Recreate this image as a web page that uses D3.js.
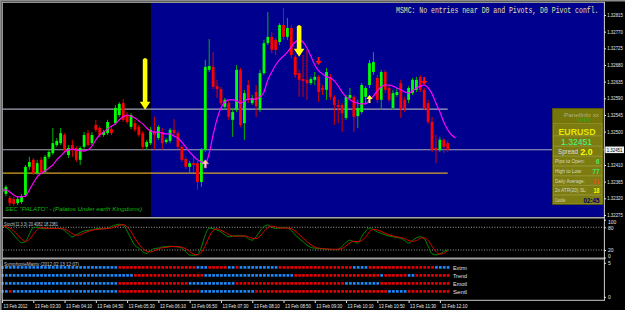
<!DOCTYPE html>
<html>
<head>
<meta charset="utf-8">
<script src="https://cdn.jsdelivr.net/npm/d3@7/dist/d3.min.js"></script>
<style>
html,body{margin:0;padding:0;background:#000;}
svg{display:block;}
text{font-family:"Liberation Sans",Arial,sans-serif;}
</style>
</head>
<body>
<svg id="chart" width="625" height="310"></svg>
<script>
// ================= DATA =================
const timeTickBars = [0,8,16,24,32,40,48,56,64,72,80,88,96,104,112];
const timeLabels = ["13 Feb 2012","13 Feb 03:30","13 Feb 04:10","13 Feb 04:50","13 Feb 05:30","13 Feb 06:10","13 Feb 06:50","13 Feb 07:30","13 Feb 08:10","13 Feb 08:50","13 Feb 09:30","13 Feb 10:10","13 Feb 10:50","13 Feb 11:30","13 Feb 12:10"];
const priceTicks = [1.32815,1.32770,1.32725,1.32680,1.32635,1.32590,1.32545,1.32500,1.32410,1.32365,1.32320,1.32275];
const bidPrice = 1.32451;
const upperLevel = 1.32561;
const lowerLevel = 1.32388;
const sessionStartBar = 38;

const open = [1.32337,1.32332,1.32321,1.32318,1.32307,1.32310,1.32329,1.32405,1.32424,1.32388,
1.32424,1.32391,1.32432,1.32442,1.32464,1.32469,1.32491,1.32437,1.32464,1.32456,
1.32424,1.32459,1.32496,1.32469,1.32518,1.32510,1.32491,1.32496,1.32507,1.32523,
1.32545,1.32577,1.32545,1.32513,1.32523,1.32513,1.32496,1.32459,1.32469,1.32499,
1.32483,1.32499,1.32472,1.32475,1.32505,1.32496,1.32459,1.32426,1.32405,1.32415,
1.32415,1.32364,1.32451,1.32667,1.32675,1.32623,1.32615,1.32567,1.32577,1.32532,
1.32559,1.32667,1.32523,1.32626,1.32577,1.32607,1.32559,1.32658,1.32739,1.32756,
1.32748,1.32742,1.32788,1.32756,1.32780,1.32702,1.32658,1.32642,1.32640,1.32631,
1.32640,1.32648,1.32618,1.32613,1.32648,1.32594,1.32572,1.32572,1.32537,1.32591,
1.32594,1.32542,1.32553,1.32594,1.32626,1.32661,1.32645,1.32586,1.32661,1.32618,
1.32564,1.32599,1.32631,1.32586,1.32586,1.32604,1.32613,1.32648,1.32613,1.32577,
1.32526,1.32456,1.32451,1.32478,1.32469];
const high = [1.32353,1.32356,1.32326,1.32324,1.32324,1.32332,1.32410,1.32432,1.32429,1.32424,
1.32432,1.32437,1.32451,1.32510,1.32483,1.32510,1.32496,1.32464,1.32478,1.32461,
1.32461,1.32499,1.32505,1.32499,1.32532,1.32515,1.32505,1.32532,1.32515,1.32572,
1.32580,1.32588,1.32553,1.32550,1.32532,1.32518,1.32502,1.32478,1.32513,1.32540,
1.32518,1.32510,1.32483,1.32510,1.32534,1.32502,1.32464,1.32432,1.32421,1.32434,
1.32421,1.32456,1.32694,1.32750,1.32715,1.32640,1.32621,1.32591,1.32583,1.32564,
1.32680,1.32672,1.32613,1.32640,1.32599,1.32626,1.32667,1.32748,1.32823,1.32769,
1.32753,1.32793,1.32834,1.32807,1.32788,1.32707,1.32667,1.32707,1.32721,1.32648,
1.32661,1.32653,1.32626,1.32672,1.32656,1.32599,1.32586,1.32577,1.32599,1.32618,
1.32599,1.32586,1.32631,1.32623,1.32694,1.32715,1.32653,1.32667,1.32667,1.32626,
1.32613,1.32618,1.32640,1.32594,1.32623,1.32645,1.32648,1.32653,1.32618,1.32586,
1.32540,1.32491,1.32486,1.32483,1.32475];
const low = [1.32332,1.32326,1.32299,1.32299,1.32302,1.32305,1.32324,1.32397,1.32383,1.32383,
1.32386,1.32386,1.32426,1.32437,1.32459,1.32464,1.32445,1.32429,1.32432,1.32418,
1.32410,1.32453,1.32459,1.32464,1.32499,1.32486,1.32486,1.32491,1.32491,1.32518,
1.32540,1.32526,1.32521,1.32507,1.32499,1.32486,1.32451,1.32451,1.32464,1.32451,
1.32478,1.32451,1.32467,1.32469,1.32491,1.32453,1.32418,1.32399,1.32388,1.32391,
1.32343,1.32351,1.32445,1.32661,1.32615,1.32591,1.32572,1.32559,1.32532,1.32486,
1.32553,1.32513,1.32478,1.32577,1.32572,1.32540,1.32553,1.32653,1.32734,1.32712,
1.32707,1.32734,1.32748,1.32748,1.32699,1.32645,1.32594,1.32594,1.32586,1.32626,
1.32626,1.32580,1.32599,1.32586,1.32586,1.32518,1.32523,1.32499,1.32532,1.32586,
1.32499,1.32510,1.32548,1.32577,1.32618,1.32653,1.32577,1.32559,1.32604,1.32580,
1.32559,1.32594,1.32537,1.32553,1.32577,1.32599,1.32607,1.32607,1.32559,1.32521,
1.32445,1.32415,1.32445,1.32442,1.32445];
const close = [1.32348,1.32351,1.32307,1.32305,1.32318,1.32326,1.32405,1.32418,1.32388,1.32415,
1.32391,1.32432,1.32445,1.32469,1.32475,1.32496,1.32451,1.32456,1.32451,1.32424,
1.32456,1.32491,1.32464,1.32491,1.32505,1.32491,1.32499,1.32526,1.32496,1.32564,
1.32575,1.32532,1.32526,1.32545,1.32505,1.32491,1.32459,1.32472,1.32505,1.32491,
1.32513,1.32469,1.32478,1.32505,1.32496,1.32459,1.32424,1.32405,1.32415,1.32410,
1.32364,1.32451,1.32675,1.32677,1.32621,1.32615,1.32577,1.32586,1.32540,1.32553,
1.32667,1.32518,1.32604,1.32586,1.32591,1.32569,1.32658,1.32739,1.32756,1.32721,
1.32721,1.32788,1.32756,1.32780,1.32707,1.32653,1.32640,1.32637,1.32631,1.32642,
1.32648,1.32607,1.32613,1.32661,1.32594,1.32572,1.32567,1.32550,1.32594,1.32599,
1.32540,1.32564,1.32626,1.32618,1.32685,1.32688,1.32586,1.32661,1.32613,1.32586,
1.32604,1.32607,1.32561,1.32564,1.32618,1.32640,1.32640,1.32613,1.32564,1.32526,
1.32451,1.32451,1.32478,1.32459,1.32451];
// shifted moving average (extends 2 bars beyond the last candle)
const maValues = [1.32343,1.32343,1.32337,1.32329,1.32324,1.32324,1.32326,1.32343,1.32361,1.32378,
1.32388,1.32394,1.32402,1.32410,1.32424,1.32434,1.32445,1.32451,1.32453,1.32451,
1.32448,1.32448,1.32451,1.32461,1.32478,1.32491,1.32499,1.32507,1.32515,1.32521,
1.32532,1.32540,1.32545,1.32542,1.32537,1.32529,1.32521,1.32510,1.32502,1.32499,
1.32499,1.32496,1.32494,1.32494,1.32488,1.32483,1.32472,1.32459,1.32445,1.32434,
1.32424,1.32418,1.32413,1.32442,1.32491,1.32534,1.32564,1.32580,1.32586,1.32586,
1.32583,1.32577,1.32583,1.32588,1.32588,1.32588,1.32594,1.32607,1.32640,1.32661,
1.32680,1.32694,1.32704,1.32715,1.32729,1.32742,1.32748,1.32742,1.32726,1.32704,
1.32680,1.32664,1.32656,1.32648,1.32645,1.32637,1.32623,1.32607,1.32594,1.32586,
1.32580,1.32577,1.32575,1.32575,1.32586,1.32596,1.32610,1.32621,1.32626,1.32626,
1.32623,1.32618,1.32613,1.32607,1.32604,1.32610,1.32618,1.32623,1.32626,1.32618,
1.32602,1.32577,1.32553,1.32526,1.32505,1.32491,1.32483];

const stochMain = [86,80,72,60,48,39,42,62,79,80,
77,76,77,78,77,76,72,62,55,60,
66,70,72,73,76,77,76,77,82,86,
88,86,70,50,32,25,15,11,18,24,
25,28,29,30,29,28,25,15,7,6,
8,28,60,78,76,73,68,60,55,56,
58,57,57,50,46,55,70,82,86,80,
77,78,79,78,72,60,50,42,33,27,
25,24,23,22,22,21,22,30,40,46,
42,38,55,70,78,74,68,64,60,57,
55,53,51,45,38,45,52,55,50,30,
10,7,10,16,20.4082];
const stochSignal = [84,82,78,70,60,49,43,48,61,74,
79,78,77,77,77,77,75,70,63,59,
60,65,69,72,74,75,76,77,78,82,
85,87,81,69,51,36,24,17,15,18,
22,26,27,29,29,29,27,23,16,9,
7,14,32,55,71,76,72,67,61,57,
56,57,57,55,51,50,57,69,79,83,
81,78,78,78,76,70,61,51,42,34,
28,25,24,23,22,22,22,24,31,39,
43,42,45,54,68,74,73,69,64,60,
57,55,53,50,45,43,45,51,52,45,
30,16,9,11,18.2381];
const stochLevels = [80,20];
const stochAxisTicks = [100,80,20,0];

// SymphonieMatrix rows, run-length: [state, number of bars]  (b = up/blue, r = down/red)
const symphRowNames = ["Extrm","Trend","Emotl","Sentl"];
const extrmRuns = [["b",30],["r",20],["b",3],["r",5],["b",2],["r",1],["b",10],["r",19],["b",4],["r",17],["b",4]];
const trendRuns = [["b",34],["r",18],["b",23],["r",22],["b",1],["r",6],["b",2],["r",9]];
const emotlRuns = [["b",30],["r",18],["b",12],["r",28],["b",9],["r",18]];
const sentlRuns = [["b",2],["r",1],["b",27],["r",21],["b",14],["r",34],["b",5],["r",11]];
const symphAxisTicks = [5,0];

// signal arrows: bar index, tip price, tail price
const bigArrows = [{bar:36.6, tip:1.32559, tail:1.32699},{bar:76, tip:1.32702, tail:1.32788}];
const smallDownArrows = [{bar:81, tip:1.32680},{bar:108, tip:1.32626}];
const smallUpArrows = [{bar:94, tip:1.32599, kind:"y"},{bar:52, tip:1.32424, kind:"p"}];

const headline = "MSMC: No entries near D0 and Pivots, D0 Pivot confl.";
const footnote = 'SEC "PALATO" - (Palatos Under earth Kingdoms)';
const stochTitle = "Stoch(11,3,3) 20.4082 18.2381";
const symphTitle = "SymphonieMatrix (2012.02.13 12:07)";

const panelSymbol = "EURUSD";
const panelPrice = "1.32451";
const panelSpread = "2.0";
const panelLabels = ["Pips to Open:","High to Low:","Daily Average:","2x ATR(20) SL:","Candle:"];
const panelValues = ["6","77","91","18","02:45"];

// ================= DRAW =================
const svg = d3.select("#chart");
const nBars = close.length;
const x = d3.scaleLinear().domain([0, nBars-1]).range([2, 447.7]);
const y = d3.scaleLinear().domain([1.32275, 1.32815]).range([215, 15]);
const yS = d3.scaleLinear().domain([0,100]).range([257.6, 219.7]);
const ySm = d3.scaleLinear().domain([0,5]).range([296.8,262.8]);
const M = {l:3, r:604, t:3, b:216.8};

svg.append("rect").attr("width",625).attr("height",310).attr("fill","#000");

const defs = svg.append("defs");
defs.append("clipPath").attr("id","mainClip").append("rect")
  .attr("x",M.l).attr("y",M.t).attr("width",M.r-M.l).attr("height",M.b-M.t);
defs.append("clipPath").attr("id","stochClip").append("rect")
  .attr("x",M.l).attr("y",219).attr("width",M.r-M.l).attr("height",38.5);

// session background
svg.append("rect").attr("x",x(sessionStartBar)+0.4).attr("y",M.t)
  .attr("width",M.r-x(sessionStartBar)-0.4).attr("height",M.b-M.t).attr("fill","#00008E");

const gMain = svg.append("g").attr("clip-path","url(#mainClip)");

// level lines
gMain.append("line").attr("x1",M.l).attr("x2",x(nBars-1)).attr("y1",y(upperLevel)).attr("y2",y(upperLevel))
  .attr("stroke","#A4A4B8").attr("stroke-width",1.2);
gMain.append("line").attr("x1",M.l).attr("x2",x(nBars-1)).attr("y1",y(lowerLevel)).attr("y2",y(lowerLevel))
  .attr("stroke","#D8A424").attr("stroke-width",1.2);
gMain.append("line").attr("x1",M.l).attr("x2",M.r).attr("y1",y(bidPrice)).attr("y2",y(bidPrice))
  .attr("stroke","#A4A4B8").attr("stroke-width",1.1);

// candles
const bars = d3.range(nBars).map(i=>({i, o:open[i], h:high[i], l:low[i], c:close[i]}));
gMain.selectAll("line.wick").data(bars).join("line").attr("class","wick")
  .attr("x1",d=>x(d.i)).attr("x2",d=>x(d.i))
  .attr("y1",d=>y(d.h)).attr("y2",d=>y(d.l))
  .attr("stroke",d=>d.c>=d.o?"#00B400":"#D80000").attr("stroke-width",1);
gMain.selectAll("rect.body").data(bars).join("rect").attr("class","body")
  .attr("x",d=>x(d.i)-1.4).attr("width",2.8)
  .attr("y",d=>y(Math.max(d.o,d.c)))
  .attr("height",d=>Math.max(1,Math.abs(y(d.o)-y(d.c))))
  .attr("fill",d=>d.c>=d.o?"#00FF00":"#FF0000");

// moving average
gMain.append("path").datum(maValues)
  .attr("d", d3.line().x((d,i)=>x(i)).y(d=>y(d)).curve(d3.curveMonotoneX))
  .attr("fill","none").attr("stroke","#FF00FF").attr("stroke-width",1.2);

// big yellow arrows
bigArrows.forEach(a=>{
  const cx = x(a.bar), tip = y(a.tip), top = y(a.tail);
  const p = d3.path();
  p.moveTo(cx-2.3, top+1.5); p.quadraticCurveTo(cx, top-1.5, cx+2.3, top+1.5);
  p.lineTo(cx+2.3, tip-8); p.lineTo(cx+5.3, tip-8); p.lineTo(cx, tip);
  p.lineTo(cx-5.3, tip-8); p.lineTo(cx-2.3, tip-8); p.closePath();
  gMain.append("path").attr("d",p.toString()).attr("fill","#FFFF00");
});
// small arrows
smallDownArrows.forEach(a=>{
  const cx=x(a.bar), t=y(a.tip);
  const p=d3.path();
  p.moveTo(cx-1,t-8); p.lineTo(cx+1,t-8); p.lineTo(cx+1,t-4); p.lineTo(cx+3.3,t-4);
  p.lineTo(cx,t); p.lineTo(cx-3.3,t-4); p.lineTo(cx-1,t-4); p.closePath();
  gMain.append("path").attr("d",p.toString()).attr("fill","#FF1010");
});
smallUpArrows.forEach(a=>{
  const cx=x(a.bar), t=y(a.tip);
  const p=d3.path();
  p.moveTo(cx-1,t+8); p.lineTo(cx+1,t+8); p.lineTo(cx+1,t+4); p.lineTo(cx+3.3,t+4);
  p.lineTo(cx,t); p.lineTo(cx-3.3,t+4); p.lineTo(cx-1,t+4); p.closePath();
  gMain.append("path").attr("d",p.toString())
    .attr("fill",a.kind==="y"?"#FFFF30":"#F8D890")
    .attr("stroke",a.kind==="y"?"none":"#FF80E0").attr("stroke-width",0.6);
});

// texts in main window
svg.append("text").attr("transform","translate(396,13) scale(1,1.42)").text(headline)
  .style("font-family","'Liberation Mono',monospace").style("font-size","6.5px")
  .attr("fill","#E2E2A2");
svg.append("text").attr("x",5).attr("y",210.5).text(footnote)
  .style("font-size","6.2px").style("font-style","italic")
  .attr("fill","#10B810").attr("textLength",137).attr("lengthAdjust","spacingAndGlyphs");

// info panel
const P = {x:552.5, y:108.5, w:50.5, h:96};
const gP = svg.append("g");
gP.append("rect").attr("x",P.x).attr("y",P.y).attr("width",P.w).attr("height",P.h)
  .attr("fill","#76760A").attr("stroke","#5A5A00").attr("stroke-width",0.8);
const rowEdges = [123.5,136,146.5,156.5,166.2,176,185.7,195.2,204];
for(let k=0;k<rowEdges.length-1;k++){
  gP.append("rect").attr("x",P.x+1).attr("y",rowEdges[k]).attr("width",P.w-2).attr("height",rowEdges[k+1]-rowEdges[k]-0.6)
    .attr("fill","#7C7C10").attr("stroke","#9C9C40").attr("stroke-width",0.5);
}
gP.append("text").attr("x",564).attr("y",117).text("PanelInfo xx").style("font-size","5.5px")
  .attr("fill","#B4B47C").attr("textLength",35).attr("lengthAdjust","spacingAndGlyphs");
gP.append("text").attr("x",577.5).attr("y",122).text("%IFX").style("font-size","4.5px")
  .attr("fill","#18B018").attr("textLength",13).attr("lengthAdjust","spacingAndGlyphs");
gP.append("text").attr("x",558.5).attr("y",134.5).text(panelSymbol).style("font-size","9.5px").style("font-weight","bold")
  .attr("fill","#E8E800").attr("textLength",37).attr("lengthAdjust","spacingAndGlyphs");
gP.append("text").attr("x",561).attr("y",144.8).text(panelPrice).style("font-size","9.5px")
  .attr("fill","#40FF90").attr("textLength",31).attr("lengthAdjust","spacingAndGlyphs");
gP.append("text").attr("x",558).attr("y",154.3).text("Spread").style("font-size","6.5px")
  .attr("fill","#DCDCDC").attr("textLength",20).attr("lengthAdjust","spacingAndGlyphs");
gP.append("text").attr("x",580.5).attr("y",154.8).text(panelSpread).style("font-size","8.5px").style("font-weight","bold")
  .attr("fill","#FFFF00").attr("textLength",12).attr("lengthAdjust","spacingAndGlyphs");
const labelW = [30,27,30,32,11];
const valueColors = ["#38F060","#38F070","#E65020","#FFFF00","#000070"];
const valueW = [3.5,7,7,6,16];
panelLabels.forEach((lab,k)=>{
  const top = rowEdges[k+3];
  gP.append("text").attr("x",555).attr("y",top+6.6).text(lab).style("font-size","5px")
    .attr("fill","#DADAC0").attr("textLength",labelW[k]).attr("lengthAdjust","spacingAndGlyphs");
  gP.append("text").attr("x",599.5).attr("y",top+7.6).attr("text-anchor","end").text(panelValues[k])
    .style("font-size","7.5px").style("font-weight","bold")
    .attr("fill",valueColors[k]).attr("textLength",valueW[k]).attr("lengthAdjust","spacingAndGlyphs");
});

// price axis
const gY = svg.append("g").attr("transform","translate(604,0)")
  .call(d3.axisRight(y).tickValues(priceTicks).tickSize(2).tickPadding(1.3).tickFormat(d3.format(".5f")));
gY.select(".domain").remove();
gY.selectAll(".tick line").attr("stroke","#E0E0E0");
gY.selectAll(".tick text").attr("fill","#E8E8E8").style("font-size","4.8px")
  .attr("textLength",15.5).attr("lengthAdjust","spacingAndGlyphs").attr("dy","0.34em");
// bid label
svg.append("rect").attr("x",605.3).attr("y",y(bidPrice)-3.3).attr("width",18.7).attr("height",6.6).attr("fill","#F0F0F0");
svg.append("text").attr("x",606.8).attr("y",y(bidPrice)+1.8).text(d3.format(".5f")(bidPrice))
  .style("font-size","4.8px").attr("fill","#000").attr("textLength",15.5).attr("lengthAdjust","spacingAndGlyphs");

// stochastic panel
const gS = svg.append("g").attr("clip-path","url(#stochClip)");
stochLevels.forEach(v=>{
  gS.append("line").attr("x1",M.l).attr("x2",M.r).attr("y1",yS(v)).attr("y2",yS(v))
    .attr("stroke","#C8C8C8").attr("stroke-width",0.8).attr("stroke-dasharray","1,1.6");
});
const sLine = d3.line().x((d,i)=>x(i)).y(d=>yS(d)).curve(d3.curveMonotoneX);
gS.append("path").datum(stochMain).attr("d",sLine).attr("fill","none").attr("stroke","#008C00").attr("stroke-width",1);
gS.append("path").datum(stochSignal).attr("d",sLine).attr("fill","none").attr("stroke","#E00000").attr("stroke-width",1);
svg.append("text").attr("x",4).attr("y",225.5).text(stochTitle).style("font-size","5.5px")
  .attr("fill","#C8C8C8").attr("textLength",54).attr("lengthAdjust","spacingAndGlyphs");
const gSA = svg.append("g").attr("transform","translate(604,0)")
  .call(d3.axisRight(yS).tickValues(stochAxisTicks).tickSize(2).tickPadding(2));
gSA.select(".domain").remove();
gSA.selectAll(".tick line").attr("stroke","#E0E0E0");
gSA.selectAll(".tick text").attr("fill","#E8E8E8").style("font-size","5px")
  .attr("dy",d=>d===100?"3.4px":(d===0?"-0.2px":"1.8px"));

// symphonie matrix panel
const expand = runs => runs.flatMap(([s,n])=>Array(n).fill(s));
const symphRows = [expand(extrmRuns),expand(trendRuns),expand(emotlRuns),expand(sentlRuns)];
const rowY = [267.4,275.4,283.4,291.4];
const gM = svg.append("g");
symphRows.forEach((row,r)=>{
  gM.selectAll(null).data(row).join("rect")
    .attr("x",(d,i)=>x(i)-0.9).attr("y",rowY[r]-1.3).attr("width",2.7).attr("height",2.6)
    .attr("fill",d=>d==="b"?"#1E8CFF":"#F00000");
  gM.append("text").attr("x",453).attr("y",rowY[r]+2.6).text(symphRowNames[r]).style("font-size","5.5px")
    .attr("fill","#E0E0E0").attr("textLength",14).attr("lengthAdjust","spacingAndGlyphs");
});
svg.append("text").attr("x",4).attr("y",265.5).text(symphTitle).style("font-size","5.5px")
  .attr("fill","#C8C8C8").attr("textLength",75).attr("lengthAdjust","spacingAndGlyphs");
const gMA = svg.append("g").attr("transform","translate(604,0)")
  .call(d3.axisRight(ySm).tickValues(symphAxisTicks).tickSize(2).tickPadding(2).tickFormat(d3.format("d")));
gMA.select(".domain").remove();
gMA.selectAll(".tick line").attr("stroke","#E0E0E0");
gMA.selectAll(".tick text").attr("fill","#E8E8E8").style("font-size","5px");

// frames / separators
svg.append("line").attr("x1",0).attr("x2",625).attr("y1",0.8).attr("y2",0.8).attr("stroke","#8C8C8C").attr("stroke-width",1.6);
svg.append("line").attr("x1",0.8).attr("x2",0.8).attr("y1",0).attr("y2",310).attr("stroke","#8C8C8C").attr("stroke-width",1.6);
svg.append("line").attr("x1",2.2).attr("x2",604.5).attr("y1",2.3).attr("y2",2.3).attr("stroke","#D0D0D0").attr("stroke-width",0.9);
svg.append("line").attr("x1",2.3).attr("x2",2.3).attr("y1",2.2).attr("y2",300.5).attr("stroke","#D0D0D0").attr("stroke-width",0.9);
svg.append("line").attr("x1",2).attr("x2",604.5).attr("y1",217.8).attr("y2",217.8).attr("stroke","#A8A8A8").attr("stroke-width",1.5);
svg.append("line").attr("x1",2).attr("x2",604.5).attr("y1",258.5).attr("y2",258.5).attr("stroke","#A0A0A0").attr("stroke-width",1.8);
svg.append("line").attr("x1",604.4).attr("x2",604.4).attr("y1",2).attr("y2",300.5).attr("stroke","#E8E8E8").attr("stroke-width",0.9);
svg.append("line").attr("x1",2).attr("x2",604.8).attr("y1",300.3).attr("y2",300.3).attr("stroke","#E0E0E0").attr("stroke-width",0.9);

// time axis
const gX = svg.append("g").attr("transform","translate(0,300.5)")
  .call(d3.axisBottom(x).tickValues(timeTickBars).tickSize(2.5).tickPadding(1.5).tickFormat((d,k)=>timeLabels[k]));
gX.select(".domain").remove();
gX.selectAll(".tick line").attr("stroke","#E0E0E0");
gX.selectAll(".tick text").attr("fill","#E8E8E8").style("font-size","5.2px").attr("text-anchor","start").attr("dx","1")
  .attr("textLength",(d,k)=>k===0?24:26).attr("lengthAdjust","spacingAndGlyphs");
</script>
</body>
</html>
